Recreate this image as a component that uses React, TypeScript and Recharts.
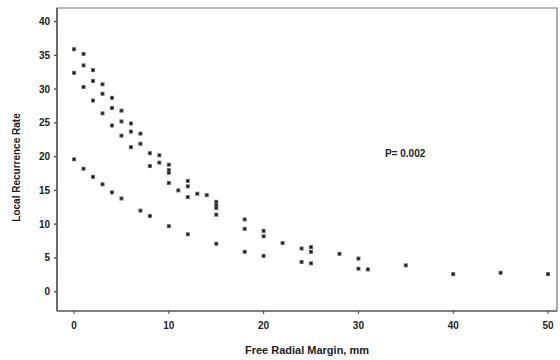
import * as React from 'react'
import {
  ScatterChart,
  Scatter,
  XAxis,
  YAxis,
  ReferenceDot,
  ReferenceArea,
} from 'recharts'

// free radial margin (mm) and local recurrence rate (%)
const marginMm = [
  0, 0, 0,
  1, 1, 1, 1,
  2, 2, 2, 2,
  3, 3, 3, 3,
  4, 4, 4, 4,
  5, 5, 5, 5,
  6, 6, 6,
  7, 7, 7,
  8, 8, 8,
  9, 9,
  10, 10, 10, 10, 10,
  11,
  12, 12, 12, 12,
  13, 14,
  15, 15, 15, 15, 15,
  18, 18, 18,
  20, 20, 20,
  22,
  24, 24,
  25, 25, 25,
  28,
  30, 30,
  31, 35, 40, 45, 50,
]
const recurrenceRate = [
  35.9, 32.4, 19.6,
  35.2, 33.5, 30.3, 18.2,
  32.8, 31.2, 28.3, 17.0,
  30.7, 29.3, 26.4, 15.9,
  28.7, 27.2, 24.6, 14.7,
  26.8, 25.2, 23.1, 13.8,
  24.9, 23.7, 21.4,
  23.4, 21.9, 12.0,
  20.5, 18.6, 11.2,
  20.2, 19.1,
  18.8, 18.0, 17.6, 16.1, 9.7,
  15.0,
  16.4, 15.6, 14.0, 8.5,
  14.5, 14.3,
  13.3, 12.8, 12.4, 11.4, 7.1,
  10.7, 9.3, 5.9,
  9.0, 8.2, 5.3,
  7.2,
  6.4, 4.4,
  6.6, 5.9, 4.2,
  5.6,
  4.9, 3.4,
  3.3, 3.9, 2.6, 2.8, 2.6,
]
const xTicks = [0, 10, 20, 30, 40, 50]
const yTicks = [0, 5, 10, 15, 20, 25, 30, 35, 40]
const xDomain: [number, number] = [-1.8, 50.95]
const yDomain: [number, number] = [-2.86, 42]

const points = marginMm.map((m, i) => ({ margin: m, rate: recurrenceRate[i] }))

const font = '"Liberation Sans", Arial, sans-serif'
const tickStyle = { fontSize: 10, fontWeight: 700, fill: '#222', fontFamily: font }

function Dot(props: any) {
  const { cx, cy } = props
  return (
    <g>
      <rect x={cx - 2} y={cy - 2} width={4} height={4} fill="#666" />
      <rect x={cx - 1} y={cy - 1} width={2} height={2} fill="#111" />
    </g>
  )
}

export default function App() {
  return (
    <div style={{ position: 'absolute', left: 0, top: 0, width: 560, height: 360, background: '#fff' }}>
      <ScatterChart
        width={560}
        height={360}
        margin={{ top: 8, right: 3, bottom: 0, left: 0 }}
      >
        <XAxis
          type="number"
          dataKey="margin"
          domain={xDomain}
          ticks={xTicks}
          tickSize={3}
          tickMargin={8}
          height={49}
          stroke="#444"
          tick={tickStyle}
          label={{
            value: 'Free Radial Margin, mm',
            position: 'insideBottom',
            offset: 6,
            style: { fontSize: 11, fontWeight: 700, fill: '#222', fontFamily: font },
          }}
        />
        <YAxis
          type="number"
          dataKey="rate"
          domain={yDomain}
          ticks={yTicks}
          tickSize={3}
          tickMargin={4}
          width={57}
          stroke="#555"
          strokeWidth={1.5}
          tick={tickStyle}
          label={{
            value: 'Local Recurrence Rate',
            angle: -90,
            position: 'insideLeft',
            offset: 16,
            dy: 8,
            style: { textAnchor: 'middle', fontSize: 10, fontWeight: 700, fill: '#222', fontFamily: font },
          }}
        />
        {/* box round the plot area */}
        <ReferenceArea
          x1={xDomain[0]}
          x2={xDomain[1]}
          y1={yDomain[0]}
          y2={yDomain[1]}
          fill="none"
          stroke="#777"
          strokeWidth={1.2}
        />
        <ReferenceDot
          x={32.8}
          y={20.4}
          r={0}
          label={{
            value: 'P= 0.002',
            position: 'right',
            offset: 0,
            style: { fontSize: 10, fontWeight: 700, fill: '#222', fontFamily: font },
          }}
        />
        <Scatter data={points} shape={<Dot />} isAnimationActive={false} />
      </ScatterChart>
    </div>
  )
}
